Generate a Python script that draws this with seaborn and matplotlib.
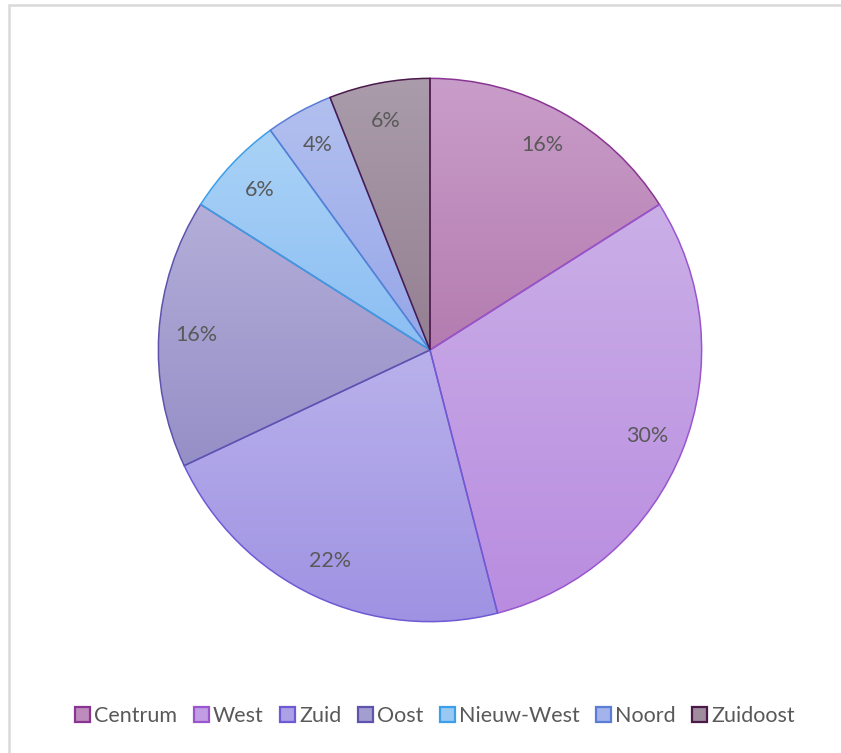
import numpy as np
import matplotlib
matplotlib.use("Agg")
import matplotlib.pyplot as plt
from matplotlib.colors import LinearSegmentedColormap
from matplotlib.patches import Patch, Rectangle
import seaborn as sns

# Share of respondents per Amsterdam district (percent)
districts = ["Centrum", "West", "Zuid", "Oost", "Nieuw-West", "Noord", "Zuidoost"]
shares = [16, 30, 22, 16, 6, 4, 6]

# Per-slice vertical gradient (top, bottom) and outline colours
grad_top = ["#c99dc9", "#caafe7", "#b9b1eb", "#b4aed9", "#aad2f6", "#b2c0ef", "#aa9cab"]
grad_bottom = ["#b47cb0", "#b98ce0", "#9f92e3", "#958fc7", "#8bbef3", "#96a6e8", "#947f91"]
edge_colors = ["#8a3593", "#9a55cf", "#6c5bd5", "#5e54ae", "#3d9fe8", "#5a7dd6", "#4b1a4b"]

sns.set_theme(style="white")
plt.rcParams["font.family"] = ["Lato", "DejaVu Sans"]

W, H = 841, 753
fig = plt.figure(figsize=(W / 100, H / 100), dpi=100)
fig.patch.set_facecolor("white")

cx, cy, r = 430, 350, 273
ax = fig.add_axes([(cx - r) / W, (H - cy - r) / H, 2 * r / W, 2 * r / H])
ax.axis("off")

wedges, texts, autotexts = ax.pie(
    shares,
    startangle=90,
    counterclock=False,
    radius=1,
    autopct=lambda p: f"{p:.0f}%",
    pctdistance=0.86,
    wedgeprops=dict(linewidth=1.1),
    textprops=dict(color="#595959", fontsize=15.5),
)

grad = np.linspace(0, 1, 256).reshape(-1, 1)
for w, ct, cb, ec in zip(wedges, grad_top, grad_bottom, edge_colors):
    w.set_facecolor("none")
    w.set_edgecolor(ec)
    w.set_zorder(3)
    bb = w.get_path().get_extents()
    cmap = LinearSegmentedColormap.from_list("g", [ct, cb])
    im = ax.imshow(grad, cmap=cmap, aspect="auto", origin="upper",
                   extent=[bb.x0, bb.x1, bb.y0, bb.y1], zorder=2,
                   interpolation="bilinear")
    im.set_clip_path(w)

for t in autotexts:
    t.set_zorder(5)
ax.set_aspect("equal")
ax.set_xlim(-1.005, 1.005)
ax.set_ylim(-1.005, 1.005)

# Legend along the bottom
handles = [Patch(facecolor=LinearSegmentedColormap.from_list("m", [ct, cb])(0.5),
                 edgecolor=ec, linewidth=1.6, label=d)
           for d, ct, cb, ec in zip(districts, grad_top, grad_bottom, edge_colors)]
fig.legend(handles=handles, loc="center", bbox_to_anchor=(435 / W, 1 - 716 / H),
           ncol=7, frameon=False, fontsize=15.5, labelcolor="#595959",
           handlelength=0.7, handleheight=0.7, handletextpad=0.2,
           columnspacing=0.75)

# Chart area border
fig.add_artist(Rectangle((8.5 / W, -0.05), 1.1, (H - 5.5) / H + 0.05,
                         transform=fig.transFigure, fill=False,
                         edgecolor="#d9d9d9", linewidth=1.8))

fig.savefig("out.png", dpi=100)
